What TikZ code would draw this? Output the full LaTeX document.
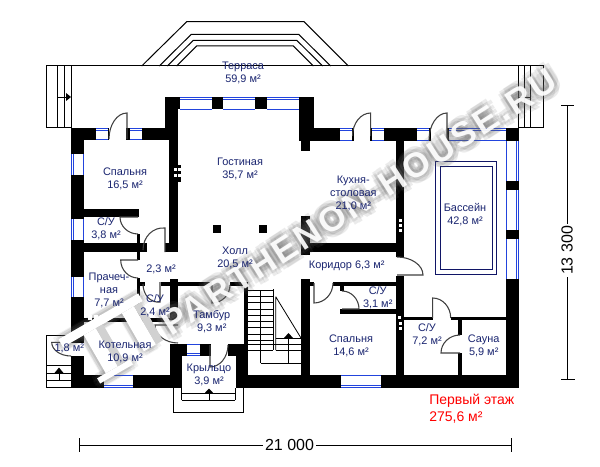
\documentclass[tikz,border=0pt]{standalone}
\usepackage{fontspec}
\setmainfont{Liberation Sans}
\newfontfamily\wmfont[LetterSpace=8.5]{Liberation Sans}
\usetikzlibrary{calc,arrows.meta}
\definecolor{navy}{HTML}{1A2570}
\definecolor{winblue}{HTML}{2244DD}
\definecolor{pooln}{HTML}{101566}
\tikzset{
  lbl/.style={font=\fontsize{8.2}{9.6}\selectfont,text=navy,align=center,inner sep=0pt},
  redlbl/.style={font=\fontsize{10.5}{12.6}\selectfont,text=red,align=left,inner sep=0pt,anchor=west},
  dimlbl/.style={font=\fontsize{12}{14}\selectfont,text=black,inner sep=1.5pt,fill=white},
  thin1/.style={draw=black,line width=0.75pt},
  doorl/.style={draw=black!75,line width=0.8pt},
  stairl/.style={draw=black,line width=0.6pt},
  winl/.style={draw=winblue,line width=0.6pt},
  pool/.style={draw=pooln,line width=0.6pt},
  wmtext/.style={rotate=32.7,inner sep=0pt,font=\wmfont\fontsize{26}{28}\selectfont\bfseries},
}
\newcommand{\wallbox}[4]{\fill[black] (#1,#2) rectangle (#3,#4);}
% horizontal window: x1 x2 y1 y2 ymid
\newcommand{\winH}[5]{\fill[white] (#1,#3) rectangle (#2,#4);
  \draw[winl] (#1,#3) -- (#2,#3) (#1,#4) -- (#2,#4) (#1,#5) -- (#2,#5);}
\newcommand{\winV}[5]{\fill[white] (#1,#2) rectangle (#3,#4);
  \draw[winl] (#1,#2) -- (#1,#4) (#3,#2) -- (#3,#4) (#5,#2) -- (#5,#4);}
% door: centre, leaf end, arc end
\newcommand{\doorq}[3]{\draw[doorl] (#1) -- (#2) .. controls ($(#2)+0.55*(#3)-0.55*(#1)$) and ($(#3)+0.55*(#2)-0.55*(#1)$) .. (#3);}
\newcommand{\gap}[4]{\fill[white] (#1,#2) rectangle (#3,#4);}
\newcommand{\ventsq}[2]{\fill[white] (#1,#2) rectangle ++(3,2.5);}
\begin{document}
\begin{tikzpicture}[x=0.75pt,y=-0.75pt]
\useasboundingbox (0,0) rectangle (600,467);
\fill[white] (0,0) rectangle (600,467);
% terrace
\draw[thin1] (46.7,66) -- (543.3,66) -- (543.3,128) -- (518.3,128) -- (518.3,66);
\draw[thin1] (46.7,66) rectangle (71,128);
\draw[stairl] (57.3,66) -- (57.3,128) (64.7,66) -- (64.7,128);
\draw[stairl] (524.3,66) -- (524.3,128) (530.3,66) -- (530.3,128);
\draw[stairl] (57.3,97) -- (66,97);
\fill[black] (66,93) -- (71,97) -- (66,101) -- cycle;
\draw[stairl] (518.3,97) -- (530.3,97);
\draw[thin1] (141.7,66) -- (186.7,21.7) -- (304,21.7) -- (348.3,66);
\draw[thin1] (159.3,66) -- (191.3,34.3) -- (298.7,34.3) -- (330.7,66);
\draw[thin1] (167.3,66) -- (193.3,40.3) -- (296.7,40.3) -- (322.7,66);
\draw[thin1] (176.7,66) -- (196.7,46) -- (293.3,46) -- (313.3,66);
% side annexes
\draw[thin1] (46.7,335) rectangle (71,387.3);
\draw[stairl] (46.7,365.7) -- (71,365.7) (46.7,373.3) -- (71,373.3) (46.7,380.7) -- (71,380.7);
\draw[stairl] (59,371) -- (59,380.7);
\fill[black] (54.5,373) -- (59,367.5) -- (63.5,373) -- cycle;
\draw[thin1] (173.3,388) -- (173.3,412.3) -- (243.3,412.3) -- (243.3,388);
\draw[stairl] (181.7,388) -- (181.7,400) (235,388) -- (235,400);
\draw[stairl] (181.7,393.3) -- (235,393.3) (181.7,400) -- (235,400);
\draw[stairl] (209,393) -- (209,400);
\fill[black] (204.5,393.3) -- (209,388.5) -- (213.5,393.3) -- cycle;
% walls
\wallbox{71}{128}{83.7}{388}
\wallbox{71}{128}{169}{139.7}
\wallbox{165}{97}{177.7}{139.7}
\wallbox{169}{139.7}{177.7}{252}
\wallbox{165}{97}{314}{109.3}
\wallbox{299}{97}{314}{141}
\wallbox{301}{97}{310}{150.7}
\wallbox{299}{128}{519}{140.7}
\wallbox{506}{128}{519}{388}
\wallbox{396}{128}{404}{257}
\wallbox{396}{276}{404}{388}
\wallbox{71}{375}{173}{388}
\wallbox{170}{344}{182}{388}
\wallbox{236}{344}{248}{388}
\wallbox{248}{375}{519}{388}
\wallbox{170}{344}{248}{356}
\wallbox{170}{279}{178}{320}
\wallbox{137}{282}{145}{286}
\wallbox{161}{282}{212}{286}
\wallbox{230}{282}{248}{286}
\wallbox{244}{282}{248}{350}
\wallbox{301}{279}{310}{375}
\wallbox{301}{216}{310}{255}
\wallbox{301}{243.3}{396}{252}
\wallbox{310}{282}{314}{286}
\wallbox{333}{282}{396}{286}
\wallbox{340}{286}{344}{291}
\wallbox{340}{309}{396}{313.7}
\wallbox{404}{316.7}{432.7}{320}
\wallbox{450.7}{316.7}{506}{320}
\wallbox{458}{320}{462}{335}
\wallbox{458}{353}{462}{375}
\wallbox{83.7}{209}{139}{217}
\wallbox{137}{234}{140}{252}
\wallbox{83.7}{243.3}{147}{251.7}
\wallbox{165}{243.3}{177.7}{252}
\wallbox{137}{252}{140}{260}
\wallbox{137}{278}{140}{320}
\wallbox{83.7}{318}{170}{322}
\wallbox{213}{225}{221}{232.7}
\wallbox{259}{225}{267}{232.7}
% vent blocks
\wallbox{173}{165}{181}{182}
\ventsq{174}{168}\ventsq{174}{174}\ventsq{177.5}{168}\ventsq{177.5}{174}
\ventsq{398.5}{219}\ventsq{398.5}{224}\ventsq{398.5}{229}
\ventsq{398}{316}\ventsq{399}{322}\ventsq{399}{327}
% windows
\winH{179.7}{212.3}{97.3}{109.3}{99}
\winH{223}{255}{97.3}{109.3}{99}
\winH{267}{299}{97.3}{109.3}{99}
\winH{96}{108}{128.3}{139.7}{130}
\winH{129.5}{142}{128.3}{139.7}{130}
\winH{340}{352}{128.3}{140.4}{130}
\winH{372}{384}{128.3}{140.4}{130}
\winH{417}{428.7}{128.3}{140.4}{130}
\winH{449}{506}{128.3}{140.4}{130}
\winH{104}{133}{375.5}{387.5}{385.8}
\winH{341}{381}{375.5}{387.5}{385.8}
\winH{187}{200}{344.3}{355.7}{353.5}
\winV{71.6}{154}{83.7}{175}{73.6}
\winV{71.6}{219}{83.7}{240}{73.6}
\winV{71.6}{276.7}{83.7}{297.3}{73.6}
\winV{506}{140.7}{518.7}{181}{516.7}
\winV{506}{190}{518.7}{230}{516.7}
\winV{506}{239}{518.7}{279}{516.7}
% door openings
\gap{109}{128}{126}{140}
\gap{353.5}{128}{370}{141}
\gap{430.5}{128}{446.5}{141}
\gap{71}{343}{84}{356}
\gap{170}{320.5}{178}{343.5}
\gap{147}{243}{165}{252}
\gap{211}{343}{228}{357}
% doors
\doorq{127,139}{127,113}{109,139}
\doorq{370.7,136}{370.7,113}{352.5,136}
\doorq{447,140}{447,113}{429,140}
\doorq{138,217}{120,217}{138,234}
\doorq{165,252}{165,228}{143,250}
\doorq{138,260}{120.7,260}{138,278}
\doorq{160,282}{160,302}{143,284}
\doorq{178,325}{155,325}{178,343}
\doorq{212,285}{212,303}{230,285}
\doorq{210,345}{210,367}{228,345}
\doorq{314,283}{314,303}{333,283}
\doorq{397,275}{423,275}{397,257}
\doorq{342,309}{359,309}{342,291}
\doorq{432.7,318}{432.7,298}{450.7,318}
\doorq{460,353}{441,353}{460,335}
\doorq{71,342.3}{51.7,342.3}{71,356}
% main stairs
\foreach \yy in {290,296.3,302.6,308.9,315.2,321.5,327.8,334.1,340.4,344.5}{
  \draw[stairl] (248,\yy) -- (273,\yy);}
\draw[stairl] (260.7,290) -- (260.7,363);
\draw[stairl] (273,289) -- (273,350);
\draw[stairl] (275.7,296.7) -- (275.7,350) (275.7,296.7) -- (301,338);
\draw[stairl] (275.7,338) -- (301,338) (275.7,344) -- (301,344) (275.7,350) -- (301,350);
\draw[stairl] (248,344) -- (275.7,344) (248,350) -- (273,350);
\draw[stairl] (260.7,363) -- (301,363);
\draw[stairl] (288.5,338) -- (288.5,363);
\fill[black] (284,338) -- (288.5,333) -- (293,338) -- cycle;
% pool
\draw[pool] (435.3,161.3) rectangle (496.7,274.3);
\draw[pool] (440.3,166.3) rectangle (492,269.3);
% watermark logo (under the labels)
\begin{scope}[shift={(60,342)},rotate=30]
  \foreach \dx/\dy in {-4/-4,0/-5,4/-4,5/0,4/4,0/5,-4/4,-5/0,2/2,-2/2,2/-2,-2/-2}{
    \fill[black!60,opacity=0.09] (0+\dx,-3+\dy) rectangle (92+\dx,6+\dy);
    \fill[black!60,opacity=0.09] (24+\dx,6+\dy) rectangle (38+\dx,50+\dy);
    \fill[black!60,opacity=0.09] (68+\dx,6+\dy) rectangle (82+\dx,50+\dy);
    \fill[black!60,opacity=0.09] (14+\dx,50+\dy) rectangle (52+\dx,56+\dy);
  }
  \fill[white] (0,-3) rectangle (92,6);
  \fill[white] (24,6) rectangle (38,50);
  \fill[white] (68,6) rectangle (82,50);
  \fill[white] (14,50) rectangle (52,56);
  \fill[black!18] (38,6) rectangle (46,50);
  \fill[black!18] (82,6) rectangle (90,50);
\end{scope}
\foreach \xx in {88,94,100}{\fill[white] (\xx,315) rectangle ++(3.5,5);}
% watermark text, under the labels so that they stay readable
\foreach \dx/\dy in {-5/-3,-1/-6,4/-5,6/0,5/4,1/6,-4/5,-6/0,3/0,-3/0,0/3,0/-3}{
  \node[wmtext,text=black!60,opacity=0.13] at (359+\dx,202+\dy) {PARTHENON-HOUSE.RU};
}
\node[wmtext,text=white,opacity=0.92] (wm) at (359,202) {PARTHENON-HOUSE.RU};
% labels
\node[lbl] (terr) at (243,73) {Терраса\\59,9 м²};
\node[lbl] (gost) at (240,169) {Гостиная\\35,7 м²};
\node[lbl] (sp1) at (125,178.5) {Спальня\\16,5 м²};
\node[lbl] (su1) at (106,228.5) {С/У\\3,8 м²};
\node[lbl] (kuh) at (353.3,193.7) {Кухня-\\столовая\\21,0 м²};
\node[lbl] (bas) at (465,214.7) {Бассейн\\42,8 м²};
\node[lbl] (holl) at (235,258) {Холл\\20,5 м²};
\node[lbl] (pr) at (161,269.3) {2,3 м²};
\node[lbl] (prach) at (109,290.7) {Прачеч-\\ная\\7,7 м²};
\node[lbl] (su2) at (155,305.7) {С/У\\2,4 м²};
\node[lbl] (tamb) at (211.7,322) {Тамбур\\9,3 м²};
\node[lbl] (kot) at (125,352) {Котельная\\10,9 м²};
\node[lbl] (ann) at (69.3,348.3) {1,8 м²};
\node[lbl] (kryl) at (209,374.7) {Крыльцо\\3,9 м²};
\node[lbl] (kor) at (346.7,266) {Коридор 6,3 м²};
\node[lbl] (su3) at (377.7,297.5) {С/У\\3,1 м²};
\node[lbl] (sp2) at (351,345.7) {Спальня\\14,6 м²};
\node[lbl] (su4) at (427,335) {С/У\\7,2 м²};
\node[lbl] (sau) at (483.7,345.7) {Сауна\\5,9 м²};
% red label
\node[redlbl] (etazh) at (429,400.3) {Первый этаж};
\node[redlbl] (area) at (429,417.3) {275,6 м²};
% dimensions
\coordinate (hl) at (79,445.3);
\coordinate (hr) at (511.7,445.3);
\coordinate (vt) at (567.3,106);
\coordinate (vb) at (567.3,379);
\draw[thin1] (hl) -- (hr);
\draw[thin1] (79,438) -- (79,452);
\draw[thin1] (511.7,438) -- (511.7,452);
\draw[thin1] (vt) -- (vb);
\draw[thin1] (561,106) -- (574,106);
\draw[thin1] (561,379) -- (575,379);
\node[dimlbl] (dh) at (289.5,445) {21 000};
\node[dimlbl,rotate=90] (dv) at (567,250.5) {13 300};
\end{tikzpicture}
\end{document}
